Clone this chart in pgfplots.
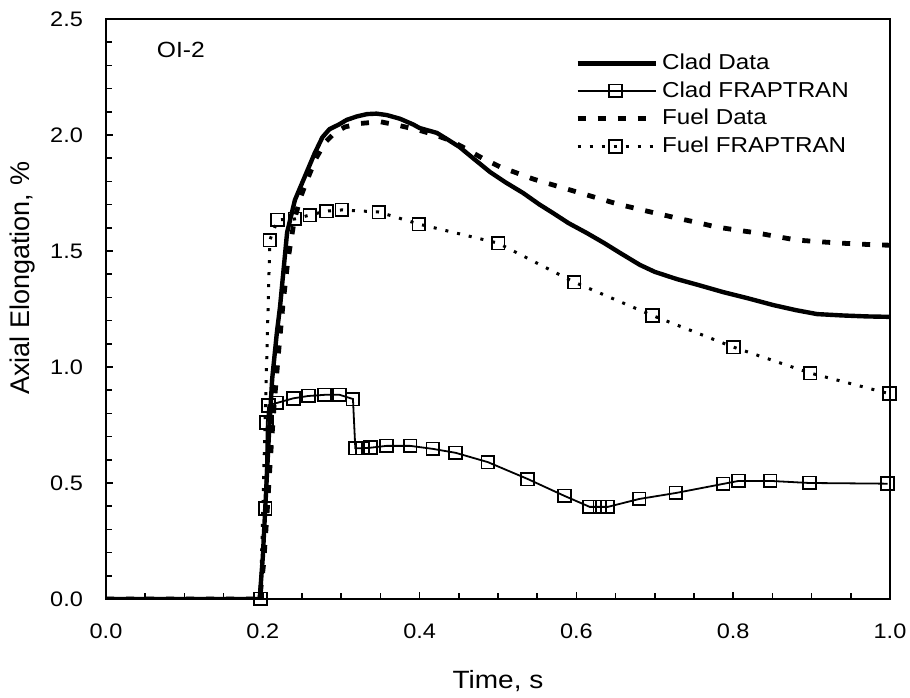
\documentclass[border=0pt]{standalone}
\usepackage{fontspec}
\setmainfont[FakeStretch=1.12]{Liberation Sans}
\newfontfamily\plainsans{Liberation Sans}
\usepackage{pgfplots}
\pgfplotsset{compat=1.18}

\begin{document}
\begin{tikzpicture}
\begin{axis}[
  scale only axis, width=392pt, height=290pt,
  xmin=0, xmax=1, ymin=0, ymax=2.5,
  xtick={0,0.2,0.4,0.6,0.8,1.0},
  ytick={0,0.5,1.0,1.5,2.0,2.5},
  minor x tick num=3, minor y tick num=4,
  tick pos=left, tick align=inside,
  major tick length=3.5pt, minor tick length=3pt,
  axis line style={line width=1.2pt},
  every tick/.style={line width=0.8pt, black},
  /pgf/number format/.cd, fixed, fixed zerofill, precision=1, assume math mode=true, /pgfplots/.cd,
  tick label style={font=\fontsize{10.5}{12}\selectfont},
  xticklabel style={yshift=-9pt},
  yticklabel style={xshift=-8pt},
  every axis x label/.style={at={(axis description cs:0.5,-0.1414)}, anchor=center, font=\fontsize{12.5}{15}\selectfont},
  every axis y label/.style={at={(axis description cs:-0.106,0.553)}, rotate=90, anchor=center, font=\plainsans\fontsize{13.5}{15}\selectfont},
  xlabel={Time, s},
  ylabel={Axial Elongation, \%},
  legend cell align=left,
  legend style={at={(axis cs:0.598,2.368)}, anchor=north west, draw=none, fill=none,
    font=\fontsize{10.8}{12}\selectfont, row sep=0.5pt, inner sep=0pt},
  legend image code/.code={\draw[mark repeat=2,mark phase=2,#1] plot coordinates {(0pt,0pt) (19pt,0pt) (39pt,0pt)};},
]
% Clad Data
\addplot[black, line width=2.2pt, line join=round] coordinates {
(0,0) (0.196,0) (0.200,0.18) (0.204,0.45) (0.208,0.72) (0.212,0.95) (0.218,1.15) (0.222,1.26)
(0.231,1.58) (0.241,1.72) (0.256,1.84) (0.266,1.92) (0.276,1.99) (0.285,2.025) (0.297,2.045)
(0.307,2.065) (0.320,2.08) (0.333,2.09) (0.345,2.092) (0.358,2.086) (0.375,2.07) (0.392,2.045)
(0.400,2.03) (0.422,2.009) (0.436,1.98) (0.451,1.948) (0.470,1.895) (0.490,1.84) (0.510,1.795)
(0.532,1.75) (0.553,1.70) (0.570,1.664) (0.590,1.62) (0.613,1.578) (0.635,1.535) (0.656,1.491)
(0.681,1.44) (0.700,1.41) (0.728,1.379) (0.757,1.352) (0.787,1.323) (0.820,1.295) (0.851,1.267)
(0.880,1.245) (0.907,1.228) (0.940,1.222) (0.970,1.218) (1.000,1.216)
};
\addlegendentry{Clad Data}
% Clad FRAPTRAN
\addplot[black, line width=0.9pt, mark=square, mark size=3.2pt, mark options={solid, line width=0.9pt}] coordinates {
(0.197,0.0) (0.203,0.39) (0.205,0.76) (0.207,0.835) (0.218,0.845) (0.239,0.865) (0.258,0.875)
(0.279,0.88) (0.298,0.88) (0.315,0.862) (0.318,0.65) (0.327,0.65) (0.337,0.652) (0.358,0.66)
(0.388,0.66) (0.417,0.647) (0.446,0.63) (0.487,0.59) (0.538,0.517) (0.585,0.444) (0.617,0.397)
(0.630,0.397) (0.640,0.397) (0.680,0.431) (0.727,0.457) (0.787,0.496) (0.807,0.509) (0.847,0.509)
(0.897,0.500) (0.997,0.497)
};
\addlegendentry{Clad FRAPTRAN}
% Fuel Data
\addplot[black, line width=2.4pt, dash pattern=on 4pt off 6pt] coordinates {
(0,0) (0.196,0) (0.201,0.15) (0.206,0.40) (0.210,0.62) (0.215,0.86) (0.220,1.06) (0.226,1.28)
(0.232,1.46) (0.240,1.63) (0.248,1.73) (0.257,1.81) (0.268,1.90) (0.280,1.97) (0.292,2.01)
(0.305,2.035) (0.325,2.05) (0.350,2.057) (0.375,2.04) (0.400,2.02) (0.420,2.0) (0.440,1.975)
(0.455,1.948) (0.480,1.90) (0.503,1.862) (0.525,1.835) (0.545,1.81) (0.570,1.785) (0.596,1.759)
(0.625,1.73) (0.652,1.703) (0.681,1.679) (0.705,1.66) (0.728,1.642) (0.755,1.622) (0.779,1.603)
(0.805,1.59) (0.830,1.578) (0.856,1.562) (0.881,1.547) (0.910,1.54) (0.936,1.534) (0.960,1.53)
(0.983,1.526) (1.000,1.525)
};
\addlegendentry{Fuel Data}
% Fuel FRAPTRAN
\addplot[black, line width=1.5pt, dash pattern=on 1.5pt off 4.5pt, mark=square, mark size=3.2pt, mark options={solid, line width=0.9pt}] coordinates {
(0.197,0.0) (0.209,1.547) (0.219,1.634) (0.241,1.638) (0.260,1.655) (0.281,1.672) (0.301,1.677)
(0.348,1.668) (0.399,1.616) (0.500,1.534) (0.597,1.366) (0.697,1.222) (0.800,1.086) (0.898,0.974)
(0.999,0.885)
};
\addlegendentry{Fuel FRAPTRAN}
\node[anchor=west, font=\fontsize{11}{12}\selectfont] at (axis cs:0.056,2.366) {OI-2};
\end{axis}
\pgfresetboundingbox
\path[use as bounding box] ([xshift=-53pt,yshift=-49.5pt]current axis.south west) rectangle ([xshift=10pt,yshift=9.5pt]current axis.north east);
\end{tikzpicture}
\end{document}
